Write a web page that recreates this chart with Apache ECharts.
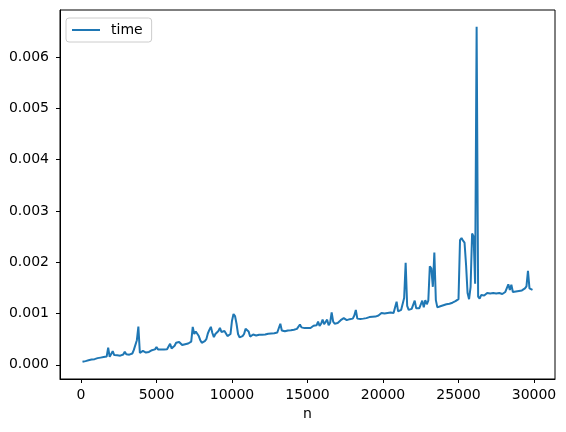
<!DOCTYPE html>
<html>
<head>
<meta charset="utf-8">
<script src="https://cdn.jsdelivr.net/npm/echarts@6/dist/echarts.min.js"></script>
<style>
html, body { margin: 0; padding: 0; background: #fff; }
#chart { width: 566px; height: 432px; }
</style>
</head>
<body>
<div id="chart"></div>
<script>
// sampling grid of n (x values): 100, 200, ..., 29900
const nStart = 100;
const nStep = 100;
const timeUs = [
  58, 62, 72, 70, 88, 96, 102, 112, 110, 128,
  130, 128, 140, 136, 150, 152, 160, 335, 155, 170,
  265, 190, 180, 185, 182, 178, 192, 200, 255, 205,
  200, 198, 210, 220, 290, 300, 480, 745, 230, 240,
  270, 240, 238, 245, 250, 275, 285, 270, 300, 345,
  300, 290, 300, 295, 300, 310, 305, 330, 410, 320,
  340, 370, 430, 450, 445, 410, 385, 360, 400, 420,
  415, 420, 450, 740, 600, 650, 680, 560, 480, 430,
  420, 460, 500, 610, 680, 740, 620, 540, 600, 620,
  660, 720, 640, 620, 660, 680, 560, 550, 600, 860,
  990, 950, 800, 600, 535, 550, 560, 600, 700, 690,
  650, 550, 560, 590, 575, 570, 580, 585, 590, 588,
  595, 590, 600, 605, 598, 610, 612, 615, 620, 630,
  640, 800, 670, 660, 655, 665, 670, 668, 675, 680,
  685, 690, 700, 705, 785, 730, 720, 715, 710, 718,
  725, 718, 740, 760, 780, 770, 840, 760, 800, 880,
  790, 760, 880, 770, 820, 1020, 840, 800, 820, 815,
  830, 870, 900, 910, 880, 870, 880, 890, 880, 900,
  960, 1070, 900, 890, 895, 890, 900, 905, 910, 920,
  930, 925, 935, 930, 940, 945, 960, 950, 1010, 990,
  1000, 995, 1010, 1000, 1020, 1040, 1010, 1030, 1230, 1040,
  1060, 1070, 1065, 1300, 1990, 1150, 1070, 1080, 1090, 1110,
  1250, 1100, 1090, 1100, 1120, 1250, 1120, 1260, 1180, 1250,
  1920, 1880, 1520, 2190, 1260, 1120, 1130, 1140, 1150, 1160,
  1170, 1180, 1175, 1190, 1200, 1210, 1215, 1240, 1250, 1280,
  2430, 2470, 2420, 2380, 1950, 1400, 1280, 1520, 2560, 2500,
  1580, 6590, 1330, 1290, 1360, 1370, 1350, 1380, 1400, 1370,
  1390, 1380, 1400, 1420, 1390, 1380, 1400, 1410, 1380, 1400,
  1420, 1440, 1570, 1460, 1560, 1420, 1400, 1430, 1420, 1440,
  1430, 1450, 1470, 1490, 1530, 1830, 1490, 1470, 1460
];
const xTicks = [0, 5000, 10000, 15000, 20000, 25000, 30000];
const yTicks = [0.000, 0.001, 0.002, 0.003, 0.004, 0.005, 0.006];
const seriesName = 'time';
const xName = 'n';

const data = timeUs.map((v, i) => [nStart + i * nStep, v / 1e6]);

const FONT = 'DejaVu Sans';
const chart = echarts.init(document.getElementById('chart'), null, { renderer: 'canvas' });
chart.setOption({
  animation: false,
  backgroundColor: '#ffffff',
  grid: { left: 60, right: 11, top: 10, bottom: 53, show: true, borderColor: '#000', borderWidth: 1, backgroundColor: 'transparent' },
  legend: {
    left: 66, top: 18,
    padding: [5, 9, 5, 6],
    borderColor: '#cccccc', borderWidth: 1, borderRadius: 3,
    backgroundColor: 'rgba(255,255,255,0.8)',
    icon: 'rect', itemWidth: 28, itemHeight: 2,
    textStyle: { fontSize: 14, fontFamily: FONT, color: '#000', padding: [0, 0, 0, 6] },
    data: [seriesName]
  },
  xAxis: {
    type: 'value', min: -1390, max: 31390,
    name: xName, nameLocation: 'middle', nameGap: 27,
    nameTextStyle: { fontSize: 14, fontFamily: FONT, color: '#000' },
    axisLine: { show: true, onZero: false, lineStyle: { color: '#000', width: 1 } },
    axisTick: { show: true, inside: false, length: 4, customValues: xTicks, lineStyle: { color: '#000' } },
    axisLabel: { customValues: xTicks, margin: 9, fontSize: 14, fontFamily: FONT, color: '#000',
      formatter: v => String(Math.round(v)) },
    splitLine: { show: false }
  },
  yAxis: {
    type: 'value', min: -0.000277, max: 0.006917,
    axisLine: { show: true, onZero: false, lineStyle: { color: '#000', width: 1 } },
    axisTick: { show: true, inside: false, length: 4, customValues: yTicks, lineStyle: { color: '#000' } },
    axisLabel: { customValues: yTicks, margin: 11, fontSize: 14, fontFamily: FONT, color: '#000',
      formatter: v => v.toFixed(3) },
    splitLine: { show: false }
  },
  series: [{
    name: seriesName, type: 'line', data: data,
    showSymbol: false, symbol: 'none',
    lineStyle: { color: '#1f77b4', width: 2 },
    itemStyle: { color: '#1f77b4' }
  }]
});
</script>
</body>
</html>
